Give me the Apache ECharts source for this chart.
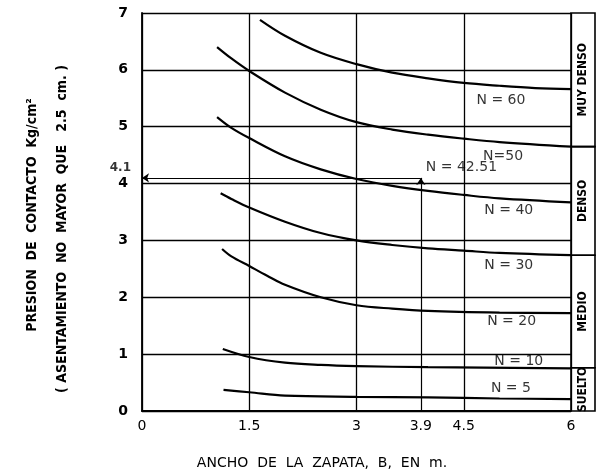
<!DOCTYPE html>
<html>
<head>
<meta charset="utf-8">
<script src="https://cdn.jsdelivr.net/npm/echarts@6/dist/echarts.min.js"></script>
<style>html,body{margin:0;padding:0;background:#fff;}#c{width:599px;height:476px;}</style>
</head>
<body>
<div id="c"></div>
<script>
// ---- data ----
var xTicks = [0, 1.5, 3, 3.9, 4.5, 6];
var yTicks = [0, 1, 2, 3, 4, 5, 6, 7];
var n60 = [[1.65,6.88],[2,6.6],[2.5,6.3],[3,6.1],[3.5,5.95],[4,5.85],[4.5,5.77],[5,5.72],[5.5,5.68],[6,5.66]];
var n50 = [[1.05,6.4],[1.25,6.2],[1.5,5.98],[2,5.6],[2.5,5.3],[3,5.08],[3.5,4.95],[4,4.86],[4.5,4.79],[5,4.73],[6,4.65]];
var n40 = [[1.05,5.17],[1.25,4.98],[1.5,4.8],[2,4.48],[2.5,4.25],[3,4.08],[3.5,3.96],[4,3.87],[4.5,3.8],[5,3.74],[6,3.67]];
var n30 = [[1.1,3.83],[1.25,3.73],[1.5,3.58],[2,3.33],[2.5,3.13],[3,3.0],[3.5,2.92],[4,2.86],[4.5,2.82],[5,2.78],[6,2.74]];
var n20 = [[1.12,2.85],[1.25,2.72],[1.5,2.55],[1.75,2.38],[2,2.22],[2.5,2.0],[3,1.86],[3.5,1.8],[4,1.76],[5,1.73],[6,1.72]];
var n10 = [[1.13,1.09],[1.5,0.95],[2,0.85],[2.5,0.81],[3,0.79],[4,0.77],[6,0.75]];
var n5  = [[1.14,0.37],[1.5,0.33],[2,0.27],[3,0.25],[4,0.24],[5,0.22],[6,0.21]];
var labelText = ['N = 60','N=50','N = 40','N = 30','N = 20','N = 10','N = 5'];
var labelX = [5.02, 5.05, 5.13, 5.13, 5.17, 5.27, 5.16];
var labelY = [5.47, 4.47, 3.53, 2.57, 1.57, 0.88, 0.40];
var designB = 3.9, designQ = 4.1, designN = 'N = 42.51';
var zoneNames = ['MUY DENSO', 'DENSO', 'MEDIO', 'SUELTO'];
var zoneTop = [7, 4.65, 2.74, 0.76];
var zoneBottom = [4.65, 2.74, 0.76, 0];

var chart = echarts.init(document.getElementById('c'));
var condensed = "'DejaVu Sans Condensed','Liberation Sans Narrow',sans-serif";
var narrow = "'Liberation Sans Narrow','DejaVu Sans Condensed',sans-serif";
function curve(d) {
  return {type:'line', data:d, smooth:0.35, symbol:'none', silent:true,
    lineStyle:{color:'#000', width:2.2}, z:5};
}
var zoneData = zoneNames.map(function(n,i){ return [zoneTop[i], zoneBottom[i], n]; });
var labData = labelText.map(function(t,i){ return {value:[labelX[i], labelY[i]], name:t}; });

chart.setOption({
  animation:false,
  backgroundColor:'#fff',
  grid:{left:142, right:28, top:13, bottom:65},
  xAxis:{type:'value', min:0, max:6, interval:1.5,
    axisLine:{show:true, lineStyle:{color:'#000', width:1.8}},
    axisTick:{show:false},
    axisLabel:{customValues:xTicks, color:'#000', fontSize:14, fontFamily:'DejaVu Sans', margin:8,
      formatter:function(v){ return String(v); }},
    splitLine:{show:true, lineStyle:{color:'#000', width:1.3}}
  },
  yAxis:{type:'value', min:0, max:7, interval:1,
    axisLine:{show:true, lineStyle:{color:'#000', width:1.8}},
    axisTick:{show:false},
    axisLabel:{color:'#000', fontSize:14, fontFamily:'DejaVu Sans', fontWeight:'bold', margin:14},
    splitLine:{show:true, lineStyle:{color:'#000', width:1.3}}
  },
  graphic:[
    {type:'text', x:32, y:215, rotation:Math.PI/2,
      style:{text:'PRESION  DE  CONTACTO  Kg/cm²', font:'bold 14px '+narrow, fill:'#000', align:'center', verticalAlign:'middle'}},
    {type:'text', x:62, y:229, rotation:Math.PI/2,
      style:{text:'( ASENTAMIENTO  NO  MAYOR  QUE   2.5  cm. )', font:'bold 14px '+narrow, fill:'#000', align:'center', verticalAlign:'middle'}},
    {type:'text', x:322, y:463,
      style:{text:'ANCHO  DE  LA  ZAPATA,  B,  EN  m.', font:'14px DejaVu Sans', fill:'#000', align:'center', verticalAlign:'middle'}}
  ],
  series:[
    curve(n60), curve(n50), curve(n40), curve(n30), curve(n20), curve(n10), curve(n5),
    {type:'scatter', data:labData, symbolSize:0, silent:true, z:6,
      label:{show:true, position:'inside', formatter:'{b}', color:'#000', fontSize:14, fontFamily:'DejaVu Sans'}},
    {type:'scatter', data:[{value:[0, designQ], name:String(designQ)}], symbolSize:0, silent:true,
      label:{show:true, position:'left', offset:[-6,-10], formatter:'{b}', color:'#000', fontSize:12, fontFamily:'DejaVu Sans', fontWeight:'bold'}},
    {type:'scatter', data:[{value:[designB, designQ], name:designN}], symbolSize:0, silent:true,
      label:{show:true, position:'right', offset:[0,-11], formatter:'{b}', color:'#000', fontSize:14, fontFamily:'DejaVu Sans'}},
    {type:'line', data:[], silent:true,
      markLine:{silent:true, animation:false, symbolSize:7, label:{show:false},
        lineStyle:{color:'#000', width:1.2, type:'solid'},
        data:[
          [{coord:[0, designQ], symbol:'arrow'}, {coord:[designB, designQ], symbol:'none'}],
          [{coord:[designB, 0], symbol:'none'}, {coord:[designB, designQ], symbol:'arrow'}]
        ]}},
    {type:'custom', data:zoneData, clip:false, silent:true, z:4,
      renderItem:function(params, api){
        var p1 = api.coord([6, api.value(0)]);
        var p2 = api.coord([6, api.value(1)]);
        var w = 24;
        return {type:'group', children:[
          {type:'rect', shape:{x:p1[0], y:p1[1], width:w, height:p2[1]-p1[1]},
            style:{fill:'none', stroke:'#000', lineWidth:1.6}},
          {type:'text', x:p1[0]+w/2, y:(p1[1]+p2[1])/2, rotation:Math.PI/2,
            style:{text:api.value(2), font:'bold 12px '+condensed, fill:'#000', align:'center', verticalAlign:'middle'}}
        ]};
      },
      encode:{x:0, y:0}}
  ]
});
</script>
</body>
</html>
